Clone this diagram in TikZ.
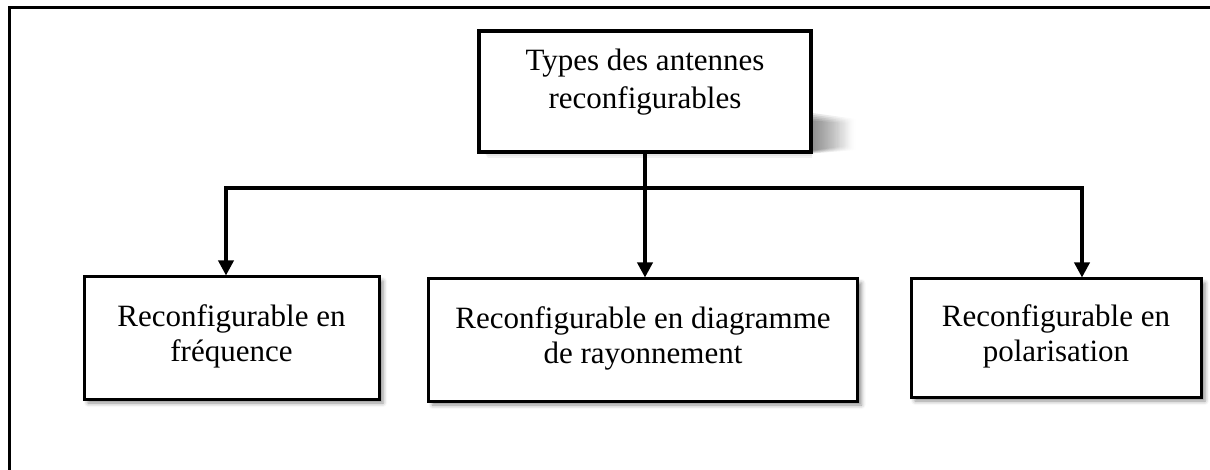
\documentclass[tikz,border=0pt]{standalone}
\usepackage{fontspec}
\setmainfont{Liberation Serif}
\usetikzlibrary{arrows.meta,shadows.blur,fadings}
\begin{document}
\begin{tikzpicture}[x=1pt,y=-1pt,
  boxtext/.style={font=\fontsize{31}{35}\selectfont, align=center},
  topbox/.style={draw=black, line width=4pt, fill=white, rectangle, inner sep=0pt,
     font=\fontsize{31}{38}\selectfont, align=center},
  leafbox/.style={draw=black, line width=3pt, fill=white, rectangle, boxtext, inner sep=0pt,
     blur shadow={shadow xshift=4pt, shadow yshift=-4pt, shadow blur radius=4pt, shadow opacity=45}},
  conn/.style={line width=3.5pt, line join=miter},
  arr/.style={conn, -{Triangle[width=15pt,length=15pt]}},
  arrs/.style={conn, {Triangle[width=15pt,length=15pt]}-{Triangle[width=15pt,length=15pt]}}
]
\useasboundingbox (0,0) rectangle (1210,470);
% outer frame (left and top sides)
\draw[line width=3pt] (9.5,470) -- (9.5,7.5) -- (1210,7.5);

% soft perspective shadow of the top box
\foreach \d in {0,2,4,6,8}{
  \fill[black, fill opacity=0.13, path fading=east]
    (805,{112+\d}) -- ({856-\d},{119+\d*0.5}) -- ({856-\d},{150-\d*0.5}) -- (805,{154-\d*0.3}) -- cycle;
}
\foreach \d in {0,2,4}{
  \fill[black, fill opacity=0.05]
    (484,152) -- (812,152) -- (812,{158-\d}) -- (488,{158-\d}) -- cycle;
}

\node[topbox, minimum width=332pt, minimum height=121pt, text depth=26pt] (top) at (645,91.5)
  {Types des antennes\\reconfigurables};

\node[leafbox, minimum width=295pt, minimum height=122pt, text depth=10pt] (L) at (231.5,338)
  {Reconfigurable en\\fréquence};
\node[leafbox, minimum width=429pt, minimum height=122pt, text depth=10pt] (M) at (643,340)
  {Reconfigurable en diagramme\\de rayonnement};
\node[leafbox, minimum width=290pt, minimum height=118pt, text depth=10pt] (R) at (1056,338)
  {Reconfigurable en\\polarisation};

\coordinate (hl) at (226,188);
\coordinate (hr) at (1082,188);

\draw[arr] (top.south) -- (top.south |- M.north);
\draw[arrs] (hl |- L.north) -- (hl) -- (hr) -- (hr |- R.north);
\end{tikzpicture}
\end{document}
